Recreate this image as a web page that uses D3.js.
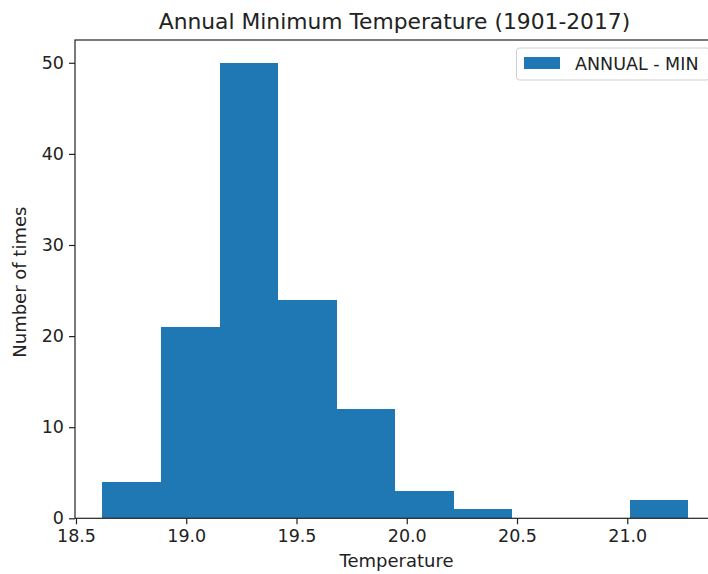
<!DOCTYPE html>
<html><head><meta charset="utf-8">
<script src="https://cdn.jsdelivr.net/npm/d3@7"></script>
<style>
html,body{margin:0;padding:0;background:#fff;overflow:hidden}
text{font-family:"DejaVu Sans",sans-serif;fill:#222}
</style></head>
<body>
<svg id="chart" width="708" height="574"></svg>
<script>
// Histogram bin edges (temperature) and counts
const binEdges = [18.62, 18.8856, 19.1512, 19.4168, 19.6824, 19.948, 20.2136, 20.4792, 20.7448, 21.0104, 21.276];
const counts = [4, 21, 50, 24, 12, 3, 1, 0, 0, 2];
const xTicks = [18.5, 19.0, 19.5, 20.0, 20.5, 21.0];
const yTicks = [0, 10, 20, 30, 40, 50];
const seriesName = "ANNUAL - MIN";
const title = "Annual Minimum Temperature (1901-2017)";

const bins = counts.map((c, i) => ({x0: binEdges[i], x1: binEdges[i + 1], n: c}));

const svg = d3.select("#chart");
const L = 75, R = 718, T = 40, B = 518.3;
const x = d3.scaleLinear().domain([18.4955, 21.4115]).range([L, R]);
const y = d3.scaleLinear().domain([0, 52.5]).range([B, T]);

svg.append("g").attr("shape-rendering", "crispEdges")
  .selectAll("rect").data(bins.filter(d => d.n > 0)).join("rect")
  .attr("x", d => x(d.x0))
  .attr("width", d => x(d.x1) - x(d.x0))
  .attr("y", d => y(d.n))
  .attr("height", d => y(0) - y(d.n))
  .attr("fill", "#1f77b4");

// spines
svg.append("rect").attr("x", L).attr("y", T).attr("width", R - L).attr("height", B - T)
  .attr("fill", "none").attr("stroke", "#222").attr("stroke-width", 1.2);

const xAxis = svg.append("g").attr("transform", `translate(0,${B})`)
  .call(d3.axisBottom(x).tickValues(xTicks).tickFormat(d3.format(".1f")).tickSize(6).tickPadding(5));
const yAxis = svg.append("g").attr("transform", `translate(${L},0)`)
  .call(d3.axisLeft(y).tickValues(yTicks).tickFormat(d3.format("d")).tickSize(6).tickPadding(5));
[xAxis, yAxis].forEach(g => {
  g.select(".domain").remove();
  g.selectAll("line").attr("stroke", "#222").attr("stroke-width", 1.2);
  g.selectAll("text").style("font-size", "17.5px").attr("fill", "#222")
    .style("font-family", "'DejaVu Sans', sans-serif");
});

svg.append("text").attr("x", (L + R) / 2 - 2).attr("y", 29).attr("text-anchor", "middle")
  .style("font-size", "21.8px").text(title);
svg.append("text").attr("x", (L + R) / 2).attr("y", 567).attr("text-anchor", "middle")
  .style("font-size", "18px").text("Temperature");
svg.append("text").attr("transform", `translate(26,${(T + B) / 2 + 3}) rotate(-90)`)
  .attr("text-anchor", "middle").style("font-size", "18px").text("Number of times");

// legend
const lg = svg.append("g");
lg.append("rect").attr("x", 516.5).attr("y", 48).attr("width", 193).attr("height", 32)
  .attr("rx", 3).attr("fill", "#fff").attr("fill-opacity", 0.8).attr("stroke", "#d0d0d0");
lg.append("rect").attr("x", 524).attr("y", 57).attr("width", 36).attr("height", 12).attr("fill", "#1f77b4");
lg.append("text").attr("x", 575).attr("y", 70).style("font-size", "17.5px").text(seriesName);
</script>
</body></html>
